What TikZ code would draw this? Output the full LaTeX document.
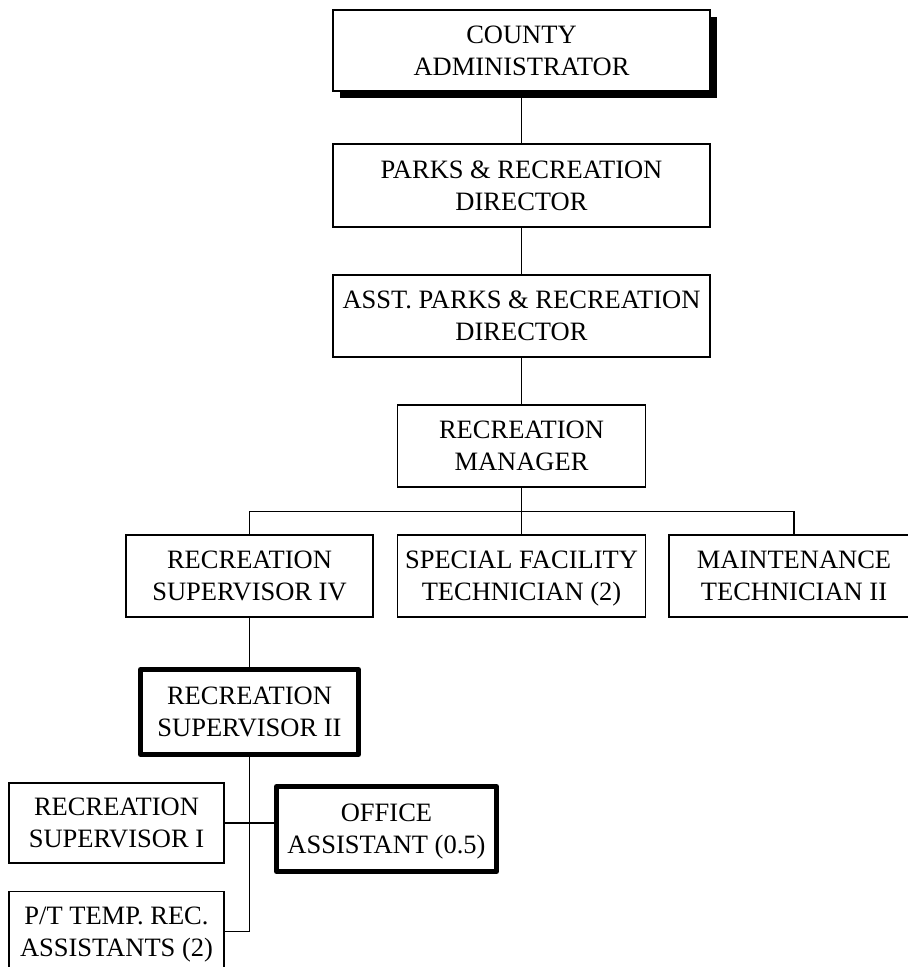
\documentclass[tikz,border=0pt]{standalone}
\usepackage{fontspec}
\setmainfont{Liberation Serif}
\usetikzlibrary{shadows}
\begin{document}
\begin{tikzpicture}[x=1pt,y=-1pt,
  box/.style={draw=black, line width=1.4pt, fill=white, inner sep=0pt,
    align=center, font=\fontsize{26.5}{32}\selectfont},
  boldbox/.style={box, line width=5pt, line join=round},
  link/.style={draw=black, line width=1.9pt}]
\useasboundingbox (0,0) rectangle (908,967);

% chain of command
\node[box, minimum width=377pt, minimum height=81pt,
  drop shadow={opacity=1, fill=black, shadow xshift=6.5pt, shadow yshift=-6.5pt}]
  (ca) at (521.5,50.5) {COUNTY\\ADMINISTRATOR};
\node[box, minimum width=377pt, minimum height=83pt] (dir) at (521.5,185.5)
  {PARKS \& RECREATION\\DIRECTOR};
\node[box, minimum width=377pt, minimum height=82pt] (asst) at (521.5,316)
  {ASST. PARKS \& RECREATION\\DIRECTOR};
\node[box, minimum width=248pt, minimum height=82pt] (mgr) at (521.5,446)
  {RECREATION\\MANAGER};

% reports of the recreation manager
\node[box, minimum width=247pt, minimum height=82pt] (sup4) at (249.5,576)
  {RECREATION\\SUPERVISOR IV};
\node[box, minimum width=248pt, minimum height=82pt] (sft) at (521.5,576)
  {SPECIAL FACILITY\\TECHNICIAN \smash{(2)}};
\node[box, minimum width=250pt, minimum height=82pt] (mt) at (794,576)
  {MAINTENANCE\\TECHNICIAN II};

% recreation programme staff
\node[boldbox, minimum width=218pt, minimum height=85pt] (sup2) at (249.5,712)
  {RECREATION\\SUPERVISOR II};
\node[box, minimum width=215pt, minimum height=80pt] (sup1) at (116.5,823)
  {RECREATION\\SUPERVISOR I};
\node[boldbox, minimum width=220pt, minimum height=85pt] (oa) at (386.5,829)
  {OFFICE\\ASSISTANT \smash{(0.5)}};
\node[box, minimum width=215pt, minimum height=80pt] (pt) at (116.5,931.5)
  {P\smash{/}T TEMP. REC.\\ASSISTANTS \smash{(2)}};

\coordinate (bus) at (521.5,511.5);

% connectors
\draw[link] (ca.south) -- (dir.north);
\draw[link] (dir.south) -- (asst.north);
\draw[link] (asst.south) -- (mgr.north);
\draw[link] (mgr.south) -- (sft.north);
\draw[link] (sup4.north) |- (bus) -| (mt.north);
\draw[link] (sup4.south) -- (sup2.north);
\draw[link] (sup2.south) |- (pt.east);
\draw[link] (sup1.east) -- (sup1.east -| oa.west);
\end{tikzpicture}
\end{document}
